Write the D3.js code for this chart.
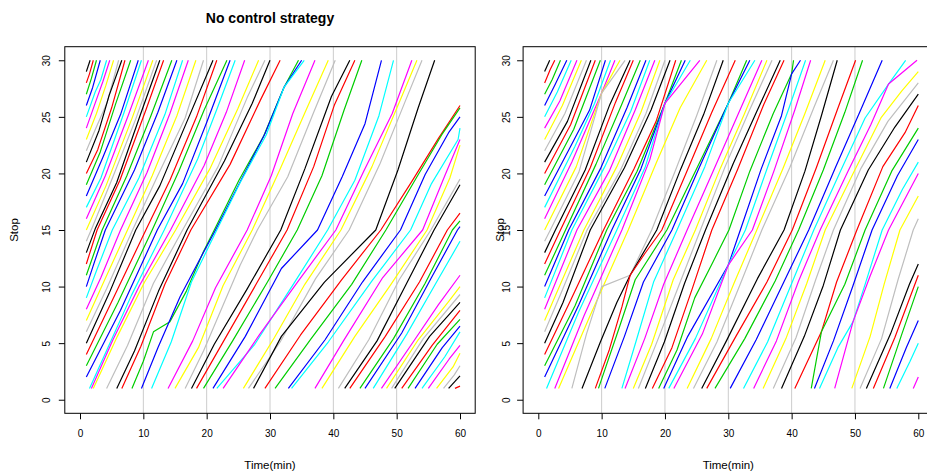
<!DOCTYPE html>
<html>
<head>
<meta charset="utf-8">
<script src="https://cdn.jsdelivr.net/npm/d3@7"></script>
<style>
  body { margin: 0; background: #fff; }
  text { font-family: "Liberation Sans", Arial, sans-serif; }
</style>
</head>
<body>
<div id="chart"></div>
<script>
// R default palette, lines cycle through it
const palette = ["black", "red", "#00CD00", "blue", "cyan", "magenta", "#FFFF00", "#BEBEBE"];

const xTicks = [0, 10, 20, 30, 40, 50, 60];
const yTicks = [0, 5, 10, 15, 20, 25, 30];
const gridTimes = [10, 20, 30, 40, 50];

// bus trajectories, knots as [time(min), stop]
// left panel: no control strategy
const leftTrips = [
  [[1,29],[1.6,30]],
  [[1,28],[1.5,28.8],[2.1,30]],
  [[1,27],[1.8,28.4],[2.6,30]],
  [[1,26],[2.0,27.6],[3.2,30]],
  [[1,25],[2.4,27.2],[3.3,28.3],[4.2,30]],
  [[1,24],[2.2,25.9],[3.6,28.1],[4.7,30]],
  [[1,23],[2.6,25.3],[4.1,27.8],[5.3,30]],
  [[1,22],[2.5,24],[4.3,26.3],[6.1,30]],
  [[1,21],[3,23.8],[4.6,26.9],[6.6,30]],
  [[1,20],[2.8,22.1],[5,25.8],[7.1,30]],
  [[1,19],[3.2,21.9],[5.6,26.1],[8,30]],
  [[1,18],[3.6,21.4],[6.4,25.2],[9.2,30]],
  [[1,17],[3.3,19.6],[6.9,25.3],[9.7,30]],
  [[1,16],[4,19.8],[7.6,25.1],[10.8,30]],
  [[1,15],[4.1,18.9],[8.3,25],[11.5,30]],
  [[1,14],[2,15.3],[5.2,19.7],[8.8,24.8],[12.1,30]],
  [[1,13],[2.4,15.1],[5.8,19.2],[9.6,25.3],[12.6,30]],
  [[1,12],[2.7,15],[6.3,19.4],[10.4,25.6],[13.2,30]],
  [[1,11],[3.5,15],[7.4,19.8],[11.2,25.1],[14.5,30]],
  [[1,10],[2.3,12.2],[4,15],[8.6,20.3],[12.3,25.4],[15.3,30]],
  [[1,9],[2.6,11.4],[5.1,15],[9.3,19.6],[13.4,25.2],[16.2,30]],
  [[1,8],[3.3,10.8],[6.4,15],[10.6,20.1],[14.2,25.3],[17.1,30]],
  [[1,7],[3.9,10.6],[7.5,15],[11.4,19.8],[15.3,25.1],[18.3,30]],
  [[1,6],[4.2,9.8],[8.3,15],[12.1,19.6],[16.6,24.9],[19.5,30]],
  [[1,5],[4.6,9.4],[8.8,15],[12.6,18.9],[16.9,24.6],[21,30]],
  [[1,4],[5.2,8.9],[10.4,15],[14.2,19.4],[18.4,25],[21.6,30]],
  [[1,3],[6,8.6],[11.4,15],[15.6,20.2],[19.6,25.6],[23.2,30]],
  [[1,2],[6.4,7.9],[12.2,15],[16.2,19.1],[20,24.5],[23.7,30]],
  [[1.5,1],[4.4,4.6],[8.1,9.2],[13.3,15],[18.6,21.3],[21.7,25.8],[24.5,30]],
  [[1.8,1],[5.2,5.3],[9.4,10.1],[14.3,15],[19.6,20.7],[23.1,25.4],[26,30]],
  [[2.1,1],[5.9,5.6],[10.2,10.4],[15.1,15],[20.5,20.4],[24.9,25.7],[28.2,30]],
  [[4.2,1],[7.5,4.8],[11.6,10.3],[16.2,15],[21.8,20.6],[26.4,26.7],[29.2,30]],
  [[5.8,1],[8.6,4.3],[12.4,9.6],[16.9,15],[22.8,21.1],[27.2,26.2],[30,30]],
  [[6.6,1],[9.6,4.7],[13.4,10.2],[17.5,15],[23.7,20.8],[28.5,26.5],[31.6,30]],
  [[8.2,1],[10,3.4],[11.6,6],[14.2,6.9],[16.8,9.6],[19.5,13.1],[21.2,15],[25.1,19.4],[29,23.3],[32.2,27.6],[34.5,30]],
  [[9.7,1],[12.3,4.6],[15.8,9.1],[18.9,12.4],[21.4,15],[25.6,19.6],[29.2,23.5],[32.2,27.6],[35,30]],
  [[11.3,1],[14.4,5.1],[17.6,10.4],[21.6,15],[25.3,19.2],[29.4,23.4],[32.2,27.6],[35.4,30]],
  [[13.9,1],[17.8,5.2],[21.4,9.9],[26.4,15],[30.2,19.8],[33.6,25.3],[37.1,30]],
  [[15,1],[18.7,4.6],[22.6,10.1],[27.2,15],[31.6,20.4],[35.7,25.6],[39.2,30]],
  [[16.6,1],[19.5,4.3],[25.3,11.9],[28,15],[32.8,19.7],[36.9,25.4],[40.3,30]],
  [[17.6,1],[21.2,4.9],[26.4,9.8],[31.7,15],[35.5,20.4],[39.7,26.8],[42.6,30]],
  [[18.4,1],[22.9,5.4],[27.8,10.2],[32.7,15],[36.9,20.6],[40.2,26.1],[43.4,30]],
  [[19.5,1],[24.1,5.2],[29.6,10.4],[34.3,15],[38.2,19.8],[41.7,25.6],[44.5,30]],
  [[21,1],[26.1,5.6],[31.8,11.6],[37.5,15],[41.4,19.7],[45,24.4],[47.6,30]],
  [[21.6,1],[27.6,4.9],[33.8,10.3],[39.1,15],[43.4,19.4],[47.2,25.1],[49.5,30]],
  [[22.6,1],[28.4,5.8],[34.6,10.6],[40.4,15],[44.8,20.2],[49.3,25.3],[52.4,30]],
  [[25.8,1],[30.7,5.5],[35.5,10.2],[41.2,15],[46.1,20.6],[50.8,26.8],[53.2,30]],
  [[26.6,1],[31.6,5.1],[37.2,10.7],[42.5,15],[47.4,20.9],[51.3,26.3],[54,30]],
  [[27.4,1],[31.8,5.6],[38.6,10.4],[46.7,15],[50.2,20.3],[53.4,25.8],[56,30]],
  [[29.2,1],[34.8,5.7],[41.3,10.6],[47.5,15],[52.4,19.3],[56.6,23.1],[60,26]],
  [[30.8,1],[36.5,5.4],[42.9,10.2],[48.3,15],[53.3,19.8],[57.1,23.4],[60,25.8]],
  [[32.9,1],[38.7,5.3],[44.6,10.4],[50.6,15],[54.5,19.9],[58.2,23.6],[60,25]],
  [[33.4,1],[39.2,5.1],[46.1,10.5],[52.2,15],[55.5,19.1],[59.7,23],[60,24]],
  [[37.1,1],[41.6,5.2],[47.8,10.8],[54.1,15],[57.6,19.8],[60,23]],
  [[38.2,1],[43.4,5.6],[49.1,10.2],[54.8,15],[58.4,19.6],[60,22.5]],
  [[40.8,1],[45.6,5.3],[50.4,10.6],[55.4,15],[60,19.5]],
  [[41.8,1],[46.9,5.2],[51.4,10.1],[55.9,15],[60,19]],
  [[42.6,1],[48.2,5.6],[53.6,10.4],[58,15],[60,16.5]],
  [[44.2,1],[49.5,5.4],[54.5,10.3],[58.8,15],[60,15.8]],
  [[45,1],[50.8,5.9],[55.5,10.8],[59.6,15],[60,15.3]],
  [[46.3,1],[51.6,5.8],[56.1,10.2],[60,14]],
  [[47.6,1],[52.6,5.1],[56.6,8.4],[60,11]],
  [[48.4,1],[53.4,5.3],[58.1,8.6],[60,10]],
  [[49.2,1],[54.2,5.4],[60,9.3]],
  [[49.7,1],[55.2,5.6],[60,8.6]],
  [[50.8,1],[55.6,4.8],[60,7.9]],
  [[51.8,1],[56.4,4.9],[60,7.1]],
  [[52.9,1],[57.2,4.6],[60,6.5]],
  [[54,1],[57.6,3.8],[60,6]],
  [[55,1],[58.3,3.6],[60,4.8]],
  [[56.3,1],[58.9,2.9],[60,4.1]],
  [[57.4,1],[59.1,2.2],[60,3]],
  [[58.2,1],[60,2.1]],
  [[59.2,1],[60,1.2]]
];

// right panel: with control, buses meet at a few stops
const rightTrips = [
  [[1,29],[1.8,30]],
  [[1,28],[1.9,29.2],[2.6,30]],
  [[1,27],[2.2,28.3],[3.5,30]],
  [[1,26],[2.6,27.8],[4.5,30]],
  [[1,25],[3,27.2],[5.2,30]],
  [[1,24],[3.4,26.4],[6.1,30]],
  [[1,23],[3.8,26],[6.8,30]],
  [[1,22],[4.2,25.3],[7.6,30]],
  [[1,21],[4.6,24.6],[8.3,30]],
  [[1,20],[5.1,24.3],[9,30]],
  [[1,19],[5.6,23.9],[9.8,30]],
  [[1,18],[5.3,22.6],[8.1,25.6],[10.6,30]],
  [[1,17],[5.8,22.4],[8.9,26.2],[11.4,30]],
  [[1,16],[5.3,21],[10,27.1],[12.1,30]],
  [[1,15],[6,20.6],[10,27.1],[12.9,30]],
  [[1,14],[1.9,15],[6.4,20.1],[10,27.1],[13.7,30]],
  [[1,13],[2.7,15],[7.4,20.3],[11.3,26.1],[14.5,30]],
  [[1,12],[3.5,15],[8.2,20.5],[12.2,26.3],[15,30]],
  [[1,11],[4.3,15],[9.1,20.8],[13.1,26],[16.1,30]],
  [[1,10],[4.8,15],[9.8,20.4],[14,25.8],[17,30]],
  [[1,9],[5.3,15],[10.5,20.6],[14.6,25.5],[17.6,30]],
  [[1,8],[6.1,15],[11.2,20.2],[15.3,25.6],[18.4,30]],
  [[1,7],[7.2,15],[12.4,20.6],[16.2,25.4],[19.2,30]],
  [[1,6],[3.8,9.7],[7.7,15],[12.9,20.2],[17,25.3],[20,30]],
  [[1,5],[3.9,8.6],[8.2,15],[13.6,20.5],[17.8,25.6],[20.8,30]],
  [[1,4],[5.2,8.9],[10.3,15],[15.1,20.4],[18.6,24.6],[21.7,30]],
  [[1,3],[5.8,8.3],[10.8,15],[15.6,20.2],[20,26.2],[22.6,30]],
  [[1,2],[6.4,8.4],[11.6,15],[16.2,20.4],[20,26.2],[23.2,30]],
  [[1.3,1],[6.4,7.8],[12.4,15],[16.9,20.6],[20,26.2],[24,30]],
  [[2.6,1],[7.2,7.4],[13.2,15],[17.6,21.2],[20,26.2],[25.5,30]],
  [[3.2,1],[8,7.2],[14.2,15],[18.6,20.9],[22.4,25.8],[26.6,30]],
  [[5.3,1],[7.6,5.8],[10,10],[14.5,11],[17.9,15],[21.6,20.2],[25,25.1],[28.2,30]],
  [[6.9,1],[9.8,5.1],[12.4,8.6],[14.5,11],[18.7,15],[22.5,20.4],[26.1,25.2],[29.2,30]],
  [[9,1],[11.2,4.4],[13.2,8.2],[14.5,11],[16.8,12.9],[19.5,15],[23.4,20.1],[27.4,25.4],[31.1,30]],
  [[9.5,1],[12.8,6.4],[15.3,10.6],[20.3,15],[24.9,20.3],[30,26.2],[32.9,30]],
  [[10.5,1],[13.6,5.6],[16.6,10.4],[21.1,15],[25.4,20.5],[30,26.2],[33.4,30]],
  [[13.2,1],[15.4,5.1],[18.2,10.4],[21.9,15],[26.3,20.6],[30,26.2],[34.2,30]],
  [[13.7,1],[16.8,5.4],[19.8,10.2],[23.5,15],[27.6,20.2],[31.6,25.3],[35.3,30]],
  [[15,1],[17.9,4.9],[21.3,10.6],[24.8,15],[28.7,20.4],[32.5,25.2],[36.1,30]],
  [[15.8,1],[18.8,5.2],[22,9.8],[25.6,15],[29.5,20.6],[33.2,25.4],[36.9,30]],
  [[16.9,1],[19.9,5.1],[23.1,10.3],[26.4,15],[30.8,20.9],[34.6,25.6],[38.2,30]],
  [[18,1],[21.1,4.6],[24.3,9.8],[27.4,15],[31.5,20.4],[35.6,26.1],[38.8,30]],
  [[19,1],[21.9,4.4],[24.7,9],[27.6,12.2],[30.1,15],[33.4,20.2],[37.1,25.3],[40,28.8],[40.3,30]],
  [[19.8,1],[23.6,5.6],[30,11.9],[31.9,15],[35.2,20.4],[38.4,25.1],[40,28.8],[41.4,30]],
  [[20.6,1],[24.8,5.4],[30,11.9],[32.7,15],[36.3,20.7],[39.6,25.8],[42.2,30]],
  [[21.4,1],[25.9,5.8],[30,11.9],[33.8,15],[37.2,20.2],[40.5,25.6],[43,30]],
  [[23.5,1],[27.3,5.4],[30.9,10.3],[34.5,15],[38.6,20.4],[42.1,25.3],[45.3,30]],
  [[24.5,1],[28.2,5.1],[31.8,10.1],[35.3,15],[39.7,20.5],[43.5,25.8],[46.6,30]],
  [[25.8,1],[29.7,5.2],[34.6,10.7],[38.8,15],[42.1,20.2],[44.7,25.1],[47.2,30]],
  [[26.6,1],[31.2,5.6],[36.1,10.4],[40.1,15],[43.9,20.5],[47.2,25.6],[50.1,30]],
  [[27.9,1],[32.6,5.4],[37.4,10.5],[41.1,15],[45,20.3],[48.4,25.4],[51.2,30]],
  [[30.3,1],[34.4,5.3],[38.6,10.2],[42.7,15],[46.9,20.5],[50.9,25.6],[54.3,30]],
  [[32.4,1],[36.2,5.1],[40.1,10.4],[43.5,15],[47.8,20.3],[51.6,24.9],[55.3,27.9],[58,30]],
  [[34,1],[37.6,5.2],[41.1,10.5],[44.5,15],[48.9,20.2],[52.5,24.3],[55.3,27.9],[59.8,30]],
  [[35.5,1],[39.1,5.4],[42.4,10.3],[45.3,15],[49.8,20.1],[54.1,24.9],[57.4,27.3],[60,29]],
  [[37.1,1],[40.7,5.5],[43.8,10.6],[46.6,15],[50.9,20.4],[55.2,24.6],[60,28]],
  [[38.4,1],[42,5.6],[45,10.1],[47.7,15],[52.1,20.3],[56.3,24.1],[60,27]],
  [[40.5,1],[44.7,6],[47.1,10.4],[50.3,15],[54.4,20.6],[57.9,23.6],[60,26]],
  [[43.1,1],[44.7,6],[48.4,10.2],[51.6,15],[55.8,20.2],[60,24]],
  [[43.6,1],[46.6,5.2],[49.7,10.1],[52.7,15],[56.7,19.8],[60,23]],
  [[44.4,1],[47.3,4.6],[49.7,6.9],[51.6,10.2],[54.3,15],[57.5,18.6],[60,21]],
  [[46.8,1],[49.7,6.9],[52.3,10.8],[55.3,15],[60,20]],
  [[49.5,1],[52.4,5.6],[54.6,10.2],[57.1,15],[60,18]],
  [[50.8,1],[54.2,5.4],[56.8,10.6],[59.2,15],[60,16]],
  [[51.8,1],[55.6,5.8],[58.6,10.2],[60,12]],
  [[52.9,1],[56.3,5.5],[60,11]],
  [[54.5,1],[57.4,5.8],[60,10]],
  [[55.5,1],[58.1,4.6],[60,7]],
  [[56.6,1],[58.7,3.4],[60,5]],
  [[59.2,1],[60,2]]
];

const W = 927, H = 475;
const svg = d3.select("#chart").append("svg")
    .attr("width", W).attr("height", H)
    .style("display", "block");

const panels = [
  {id: "left", trips: leftTrips, left: 64.8, title: "No control strategy", yTickDx: 18, yLabX: 14},
  {id: "right", trips: rightTrips, left: 523.1, title: null, yTickDx: 17, yLabX: 500}
];
const plotTop = 46.7, plotBottom = 413.3, plotW = 410.4;

panels.forEach(function (p) {
  const x = d3.scaleLinear().domain([-2.4, 62.4]).range([p.left, p.left + plotW]);
  const y = d3.scaleLinear().domain([-1.2, 31.2]).range([plotBottom, plotTop]);
  const g = svg.append("g").attr("id", p.id);

  g.append("clipPath").attr("id", "clip-" + p.id)
    .append("rect")
    .attr("x", p.left).attr("y", plotTop)
    .attr("width", plotW).attr("height", plotBottom - plotTop);

  // light vertical grid lines
  g.selectAll("line.grid")
    .data(gridTimes)
    .enter().append("line")
    .attr("class", "grid")
    .attr("x1", d => x(d)).attr("x2", d => x(d))
    .attr("y1", plotTop).attr("y2", plotBottom)
    .attr("stroke", "#cccccc")
    .attr("stroke-width", 1);

  const line = d3.line().x(d => x(d[0])).y(d => y(d[1]));

  g.append("g").attr("clip-path", "url(#clip-" + p.id + ")")
    .selectAll("path")
    .data(p.trips)
    .enter().append("path")
    .attr("d", line)
    .attr("fill", "none")
    .attr("stroke", (d, i) => palette[i % palette.length])
    .attr("stroke-width", 1.2)
    .attr("stroke-linejoin", "round");

  // box
  g.append("rect")
    .attr("x", p.left).attr("y", plotTop)
    .attr("width", plotW).attr("height", plotBottom - plotTop)
    .attr("fill", "none").attr("stroke", "black").attr("stroke-width", 1);

  // x axis
  const xAxis = g.append("g")
    .attr("transform", "translate(0," + plotBottom + ")")
    .call(d3.axisBottom(x).tickValues(xTicks).tickSize(6).tickSizeOuter(0).tickPadding(11));
  xAxis.select(".domain").remove();
  xAxis.selectAll("text").style("font-size", "10px").attr("fill", "#000");

  // y axis, labels turned like R (las = 0)
  const yAxis = g.append("g")
    .attr("transform", "translate(" + p.left + ",0)")
    .call(d3.axisLeft(y).tickValues(yTicks).tickSize(6).tickSizeOuter(0));
  yAxis.select(".domain").remove();
  yAxis.selectAll("text")
    .attr("x", null).attr("dy", "0.35em")
    .attr("transform", "translate(" + (-p.yTickDx) + ",0) rotate(-90)")
    .style("text-anchor", "middle")
    .style("font-size", "10px").attr("fill", "#000");

  g.append("text")
    .attr("x", x(30))
    .attr("y", 469)
    .attr("text-anchor", "middle")
    .style("font-size", "11.5px")
    .text("Time(min)");

  g.append("text")
    .attr("transform", "translate(" + p.yLabX + "," + y(15) + ") rotate(-90)")
    .attr("dy", "0.35em")
    .attr("text-anchor", "middle")
    .style("font-size", "11.5px")
    .text("Stop");

  if (p.title) {
    g.append("text")
      .attr("x", x(30)).attr("y", 23)
      .attr("text-anchor", "middle")
      .style("font-size", "14px").style("font-weight", "bold")
      .text(p.title);
  }
});
</script>
</body>
</html>
